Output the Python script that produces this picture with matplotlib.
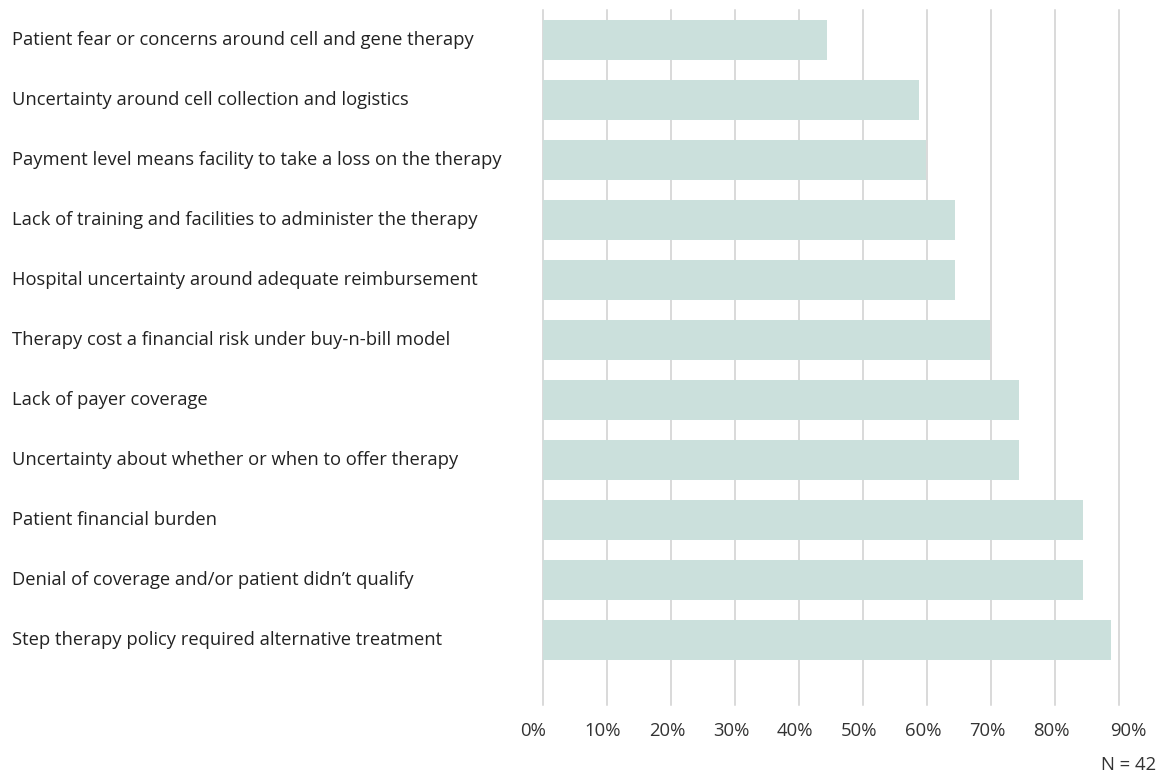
import matplotlib

matplotlib.use("Agg")
import matplotlib.pyplot as plt
import matplotlib.transforms as mtransforms
import numpy as np

plt.rcParams["font.family"] = ["Open Sans", "DejaVu Sans"]

categories = [
    "Patient fear or concerns around cell and gene therapy",
    "Uncertainty around cell collection and logistics",
    "Payment level means facility to take a loss on the therapy",
    "Lack of training and facilities to administer the therapy",
    "Hospital uncertainty around adequate reimbursement",
    "Therapy cost a financial risk under buy-n-bill model",
    "Lack of payer coverage",
    "Uncertainty about whether or when to offer therapy",
    "Patient financial burden",
    "Denial of coverage and/or patient didn\u2019t qualify",
    "Step therapy policy required alternative treatment",
]
shares = [44.3, 58.8, 59.8, 64.4, 64.4, 69.8, 74.4, 74.4, 84.4, 84.4, 88.8]
x_ticks = [0, 10, 20, 30, 40, 50, 60, 70, 80, 90]
x_tick_labels = [f"{t}%" for t in x_ticks]
sample_note = "N = 42"

W, H = 1159, 776
fig = plt.figure(figsize=(W / 100, H / 100), dpi=100)

# axes box in pixels: x 543..1119 (0..90%), y 10..705
left, right, top, bottom = 543, 1119, 10, 705
ax = fig.add_axes([left / W, 1 - bottom / H, (right - left) / W, (bottom - top) / H])

y = np.arange(len(categories))
ax.barh(y, shares, height=0.667, color="#cbe0dc", zorder=2)
ax.set_xlim(0, 90)
ax.set_ylim(len(categories) - 1 + (bottom - 640) / 60, -0.5)

ax.set_xticks(x_ticks)
ax.set_xticklabels(x_tick_labels, fontsize=13.3, color="#333333")
ax.tick_params(axis="x", length=0, pad=12)
# small horizontal nudges of the tick labels, as in the original
nudges = [-10, -4, -4, -4, -4, -4, -4, -4, -4, 9]
for lab, dx in zip(ax.get_xticklabels(), nudges):
    lab.set_transform(lab.get_transform() + mtransforms.ScaledTranslation(dx / 100, 0, fig.dpi_scale_trans))
ax.set_yticks([])
ax.grid(axis="x", color="#d0d0d0", linewidth=1.1, zorder=0)
for gl in ax.get_xgridlines():
    gl.set_clip_on(False)
ax.set_axisbelow(True)
for s in ax.spines.values():
    s.set_visible(False)

trans = mtransforms.blended_transform_factory(fig.transFigure, ax.transData)
for yi, lab in zip(y, categories):
    ax.text(12 / W, yi, lab, transform=trans, ha="left", va="center",
            fontsize=13.2, color="#222222")

fig.text(1156 / W, 1 - 765 / H, sample_note, ha="right", va="center",
         fontsize=13.3, color="#333333")

fig.savefig("out.png", dpi=100)
